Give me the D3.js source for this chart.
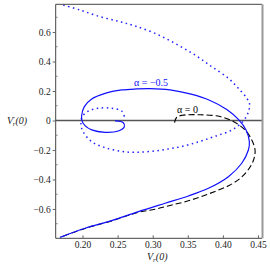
<!DOCTYPE html>
<html>
<head>
<meta charset="utf-8">
<script src="https://cdn.jsdelivr.net/npm/d3@7"></script>
<style>
  body { margin: 0; background: #fff; }
  svg { display: block; }
</style>
</head>
<body>
<div id="chart"></div>
<script>
var SERIF = '"Liberation Serif", "Times New Roman", "DejaVu Serif", serif';

// V_r(0) , V_r'(0) pairs
var alphaZero = [
  [0.3311, -0.014], [0.3342, 0.022], [0.3418, 0.035], [0.3674, 0.039],
  [0.3959, 0.027], [0.4149, -0.007], [0.4316, -0.064], [0.4411, -0.132],
  [0.4458, -0.200], [0.4437, -0.268], [0.4358, -0.336], [0.4244, -0.393],
  [0.4088, -0.441], [0.3888, -0.481], [0.3674, -0.519], [0.3461, -0.551],
  [0.3247, -0.576], [0.3033, -0.602], [0.2795, -0.623], [0.2416, -0.681],
  [0.2036, -0.732], [0.1679, -0.793]
];

var alphaHalfSolid = [
  [0.1679, -0.793], [0.2036, -0.731], [0.2416, -0.679], [0.2795, -0.618],
  [0.3176, -0.561], [0.3508, -0.512], [0.3793, -0.460], [0.4078, -0.381],
  [0.4269, -0.290], [0.4363, -0.200], [0.4377, -0.144], [0.4330, -0.064],
  [0.4220, 0.008], [0.4055, 0.075], [0.3817, 0.136], [0.3532, 0.180],
  [0.3247, 0.207], [0.2962, 0.216], [0.2772, 0.214], [0.2559, 0.207],
  [0.2321, 0.184], [0.2131, 0.146], [0.2026, 0.094], [0.1989, 0.037],
  [0.1989, 0.003], [0.2036, -0.035], [0.2131, -0.064], [0.2321, -0.080],
  [0.2510, -0.071], [0.2596, -0.042], [0.2581, -0.015], [0.2463, -0.003]
];

var alphaHalfDotted = [
  [0.1726, 0.783], [0.1964, 0.749], [0.2249, 0.704], [0.2534, 0.670],
  [0.2748, 0.641], [0.3033, 0.591], [0.3318, 0.523], [0.3603, 0.444],
  [0.3841, 0.365], [0.4078, 0.286], [0.4220, 0.218], [0.4340, 0.151],
  [0.4380, 0.112], [0.4363, 0.058], [0.4291, -0.003], [0.4130, -0.064],
  [0.3902, -0.105], [0.3689, -0.139], [0.3461, -0.171], [0.3223, -0.193],
  [0.2986, -0.209], [0.2748, -0.216], [0.2559, -0.210], [0.2321, -0.184],
  [0.2131, -0.144], [0.2011, -0.078], [0.1979, -0.031], [0.1997, 0.026],
  [0.2083, 0.064], [0.2225, 0.083], [0.2416, 0.083], [0.2559, 0.064],
  [0.2596, 0.026]
];

var xTicks = [0.20, 0.25, 0.30, 0.35, 0.40, 0.45];
var yTicks = [-0.6, -0.4, -0.2, 0, 0.2, 0.4, 0.6];
var yMinor = [-0.7, -0.5, -0.3, -0.1, 0.1, 0.3, 0.5, 0.7];

var W = 270, H = 268;
var margin = {top: 4.3, right: 8, bottom: 29.7, left: 55.7};

var svg = d3.select('#chart').append('svg')
  .attr('width', W)
  .attr('height', H);

var x = d3.scaleLinear()
  .domain([0.1618, 0.4557])
  .range([margin.left, W - margin.right]);

var y = d3.scaleLinear()
  .domain([-0.799, 0.788])
  .range([H - margin.bottom, margin.top]);

// clip so curves stay inside the frame
svg.append('clipPath').attr('id', 'clip')
  .append('rect')
  .attr('x', margin.left).attr('y', margin.top)
  .attr('width', W - margin.left - margin.right)
  .attr('height', H - margin.top - margin.bottom);

// zero line
svg.append('line')
  .attr('x1', margin.left).attr('x2', W - margin.right)
  .attr('y1', y(0)).attr('y2', y(0))
  .style('stroke', '#555')
  .style('stroke-width', 1.6);

var line = d3.line()
  .x(function(d) { return x(d[0]); })
  .y(function(d) { return y(d[1]); })
  .curve(d3.curveCatmullRom.alpha(0.5));

var plot = svg.append('g').attr('clip-path', 'url(#clip)');

plot.append('path')
  .datum(alphaZero)
  .attr('d', line)
  .style('fill', 'none')
  .style('stroke', '#000')
  .style('stroke-width', 1.1)
  .style('stroke-dasharray', '6,3');

plot.append('path')
  .datum(alphaHalfDotted)
  .attr('d', line)
  .style('fill', 'none')
  .style('stroke', '#2020ff')
  .style('stroke-width', 1.5)
  .style('stroke-dasharray', '1.5,3.5');

plot.append('path')
  .datum(alphaHalfSolid)
  .attr('d', line)
  .style('fill', 'none')
  .style('stroke', '#1010ff')
  .style('stroke-width', 1.2);

// frame
svg.append('path')
  .attr('d', 'M' + (W - margin.right) + ',' + margin.top + 'H' + margin.left +
    'V' + (H - margin.bottom) + 'H' + (W - margin.right))
  .style('fill', 'none')
  .style('stroke', '#444')
  .style('stroke-width', 1);
svg.append('line')
  .attr('x1', W - margin.right + 0.5).attr('x2', W - margin.right + 0.5)
  .attr('y1', margin.top).attr('y2', H - margin.bottom)
  .style('stroke', '#999')
  .style('stroke-width', 2);

// axes
var xAxis = svg.append('g')
  .attr('transform', 'translate(0,' + (H - margin.bottom) + ')')
  .call(d3.axisBottom(x).tickValues(xTicks).tickFormat(d3.format('.2f'))
    .tickSize(3).tickPadding(0));
xAxis.attr('font-family', null);
xAxis.select('.domain').remove();
xAxis.selectAll('line').attr('y2', -3).style('stroke', '#666');
xAxis.selectAll('text')
  .style('font-family', SERIF)
  .style('font-size', '9.5px').style('fill', '#222');

var yAxis = svg.append('g')
  .attr('transform', 'translate(' + margin.left + ',0)')
  .call(d3.axisLeft(y).tickValues(yTicks)
    .tickFormat(function(d) { return d === 0 ? '0' : d3.format('.1f')(d); })
    .tickSize(3).tickPadding(2));
yAxis.attr('font-family', null);
yAxis.select('.domain').remove();
yAxis.selectAll('line').style('stroke', '#666');
yAxis.selectAll('text')
  .style('font-family', SERIF)
  .style('font-size', '9.5px').style('fill', '#222');

svg.append('g').selectAll('line')
  .data(yMinor)
  .enter().append('line')
  .attr('x1', margin.left).attr('x2', margin.left + 2)
  .attr('y1', function(d) { return y(d); })
  .attr('y2', function(d) { return y(d); })
  .style('stroke', '#888');

// axis titles
var xt = svg.append('text')
  .attr('x', 147)
  .attr('y', H - 8)
  .style('font-family', SERIF)
  .style('font-size', '10px')
  .style('font-style', 'italic')
  .style('fill', '#222');
xt.append('tspan').text('V');
xt.append('tspan').attr('dy', 2).style('font-size', '7px').text('r');
xt.append('tspan').attr('dy', -2).text('(0)');

var yt = svg.append('text')
  .attr('x', 7)
  .attr('y', y(0) + 4)
  .style('font-family', SERIF)
  .style('font-size', '10px')
  .style('font-style', 'italic')
  .style('fill', '#222');
yt.append('tspan').text('V');
yt.append('tspan').attr('dy', -3).style('font-size', '7px').text('\u2032');
yt.append('tspan').attr('dx', -2).attr('dy', 5).style('font-size', '7px').text('r');
yt.append('tspan').attr('dy', -2).text('(0)');

// curve labels
svg.append('text')
  .attr('x', x(0.2734)).attr('y', y(0.234))
  .style('font-family', SERIF)
  .style('font-size', '10px')
  .style('fill', '#1010ff')
  .text('\u03b1 = \u22120.5');

svg.append('text')
  .attr('x', x(0.3347)).attr('y', y(0.051))
  .style('font-family', SERIF)
  .style('font-size', '10px')
  .style('fill', '#000')
  .text('\u03b1 = 0');
</script>
</body>
</html>
